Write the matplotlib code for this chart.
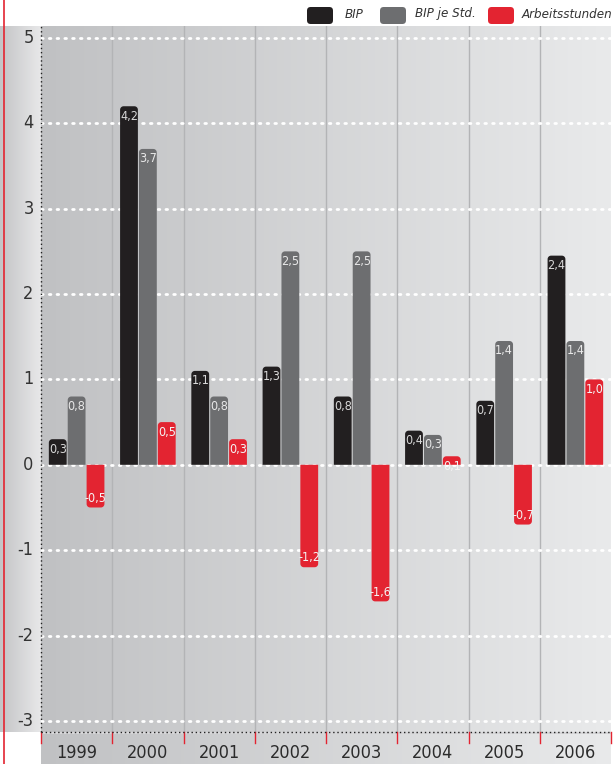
import numpy as np
import matplotlib
matplotlib.use("Agg")
import matplotlib.pyplot as plt
from matplotlib.patches import FancyBboxPatch, Rectangle, PathPatch
from matplotlib.path import Path
from matplotlib.lines import Line2D
from matplotlib.colors import LinearSegmentedColormap

# ---- data ----
years = ["1999", "2000", "2001", "2002", "2003", "2004", "2005", "2006"]
series_names = ["BIP", "BIP je Std.", "Arbeitsstunden"]
bip = [0.3, 4.2, 1.1, 1.15, 0.8, 0.4, 0.75, 2.45]
bip_std = [0.8, 3.7, 0.8, 2.5, 2.5, 0.35, 1.45, 1.45]
arbeit = [-0.5, 0.5, 0.3, -1.2, -1.6, 0.1, -0.7, 1.0]
bip_labels = ["0,3", "4,2", "1,1", "1,3", "0,8", "0,4", "0,7", "2,4"]
bip_std_labels = ["0,8", "3,7", "0,8", "2,5", "2,5", "0,3", "1,4", "1,4"]
arbeit_labels = ["-0,5", "0,5", "0,3", "-1,2", "-1,6", "0,1", "-0,7", "1,0"]
yticks = [-3, -2, -1, 0, 1, 2, 3, 4, 5]

colors = ["#221f20", "#6d6e70", "#e32431"]
label_colors = ["#d8d8d8", "#e8e8e8", "#f4f4f4"]

plt.rcParams["font.family"] = ["DejaVu Sans"]
plt.rcParams["font.stretch"] = "condensed"

W, H = 613, 764
fig = plt.figure(figsize=(W / 100, H / 100), dpi=100)
fig.patch.set_facecolor("white")

L, R, T, B = 41, 611, 26, 732
ax = fig.add_axes([L / W, (H - B) / H, (R - L) / W, (B - T) / H])
ax.set_xlim(-0.5, len(years) - 0.5)
ax.set_ylim(-3.13, 5.14)

grad = np.linspace(0, 1, 256).reshape(1, -1)
cmap_bg = LinearSegmentedColormap.from_list("bg", ["#c0c1c3", "#e9eaeb"])
ax.imshow(grad, cmap=cmap_bg, aspect="auto", extent=[0, 1, 0, 1],
          transform=ax.transAxes, zorder=0)
for s in ax.spines.values():
    s.set_visible(False)
ax.set_xticks([])
ax.set_yticks([])

for i in range(1, len(years)):
    ax.axvline(i - 0.5, color="#b3b4b6", lw=1.0, zorder=1)

for v in yticks:
    ax.axhline(v, color="white", lw=2.0, ls=(0, (0.6, 2.2)),
               dash_capstyle="round", zorder=2)


def rounded_bar_path(x0, w, val, rx, ry, n=8):
    """Bar from 0 to val with rounded corners at the far end."""
    sgn = 1.0 if val >= 0 else -1.0
    h = abs(val)
    ryy = min(ry, h / 2) if h > 0 else 0
    rxx = min(rx, w / 2)
    verts = [(x0, 0.0)]
    ang = np.linspace(np.pi, np.pi / 2, n)
    cx, cy = x0 + rxx, h - ryy
    for a in ang:
        verts.append((cx + rxx * np.cos(a), sgn * (cy + ryy * np.sin(a))))
    ang = np.linspace(np.pi / 2, 0, n)
    cx = x0 + w - rxx
    for a in ang:
        verts.append((cx + rxx * np.cos(a), sgn * (cy + ryy * np.sin(a))))
    verts.append((x0 + w, 0.0))
    verts.append((x0, 0.0))
    codes = [Path.MOVETO] + [Path.LINETO] * (len(verts) - 2) + [Path.CLOSEPOLY]
    return Path(verts, codes)


x = np.arange(len(years))
bw = 0.25
offs = [-0.265, 0.0, 0.265]
all_vals = [bip, bip_std, arbeit]
all_labels = [bip_labels, bip_std_labels, arbeit_labels]
rx = 3.5 / 71.25
ry = 3.5 / 85.4
for k in range(3):
    bars = ax.bar(x + offs[k], all_vals[k], width=bw, color=colors[k], zorder=3)
    for rect, lab in zip(bars, all_labels[k]):
        rect.set_visible(False)
        x0 = rect.get_x()
        w = rect.get_width()
        y0 = rect.get_y()
        h = rect.get_height()
        val = y0 + h if y0 >= 0 else y0
        pp = PathPatch(rounded_bar_path(x0, w, val, rx, ry), fc=colors[k],
                       ec="none", zorder=3)
        ax.add_patch(pp)
        if val >= 0:
            t = ax.annotate(lab, (x0 + w / 2, val), xytext=(0, -2.5),
                            textcoords="offset points", ha="center", va="top",
                            fontsize=9, color=label_colors[k], zorder=4)
        else:
            t = ax.annotate(lab, (x0 + w / 2, val), xytext=(0, 2),
                            textcoords="offset points", ha="center", va="bottom",
                            fontsize=9, color=label_colors[k], zorder=4)
        t.set_clip_path(pp)

# left label panel
axl = fig.add_axes([0, (H - B) / H, L / W, (B - T) / H])
cmap_l = LinearSegmentedColormap.from_list("lp", ["#c3c4c6", "#e8e8e9"])
axl.imshow(grad, cmap=cmap_l, aspect="auto", extent=[0, 1, 0, 1],
           transform=axl.transAxes, zorder=0)
axl.set_xlim(0, 1)
axl.set_ylim(ax.get_ylim())
axl.axis("off")
for v in yticks:
    axl.text(0.82, v, str(v), ha="right", va="center", fontsize=13, color="#333333")

# bottom label band
axb = fig.add_axes([L / W, 0, (R - L) / W, (H - B) / H])
axb.imshow(grad, cmap=cmap_bg, aspect="auto", extent=[0, 1, 0, 1],
           transform=axb.transAxes, zorder=0)
axb.set_xlim(ax.get_xlim())
axb.set_ylim(0, 1)
axb.axis("off")
for i, yr in enumerate(years):
    axb.text(i, 0.33, yr, ha="center", va="center", fontsize=13, color="#2b2b2b")
axb.add_patch(Rectangle((-0.5, 0.94), len(years), 0.06, fc="#d6d6d8", ec="none",
                        zorder=1, clip_on=False))
for i in range(len(years) + 1):
    axb.plot([i - 0.5, i - 0.5], [1.0, 0.66], color="#e32431", lw=1.0,
             zorder=3, clip_on=False)

fig.add_artist(Line2D([L / W, L / W], [(H - B) / H, (H - T) / H],
                      color="#222222", lw=1.0, ls=(0, (1, 2))))
fig.add_artist(Line2D([L / W, R / W], [(H - B) / H, (H - B) / H],
                      color="#222222", lw=1.0, ls=(0, (1, 2))))

fig.add_artist(Line2D([3.5 / W, 3.5 / W], [0, 1], color="#e32431", lw=1.2))

# legend
leg_x = [307, 380, 488]
leg_tx = [345, 415, 522]
for k in range(3):
    fig.add_artist(FancyBboxPatch((leg_x[k] / W, (H - 24) / H), 26 / W, 17 / H,
                                  boxstyle="round,pad=0,rounding_size=0.006",
                                  mutation_aspect=W / H,
                                  fc=colors[k], ec="none", transform=fig.transFigure))
    fig.text(leg_tx[k] / W, (H - 14) / H, series_names[k], ha="left", va="center",
             fontsize=9.5, style="italic", color="#333333")

fig.savefig("out.png", dpi=100, facecolor="white")
